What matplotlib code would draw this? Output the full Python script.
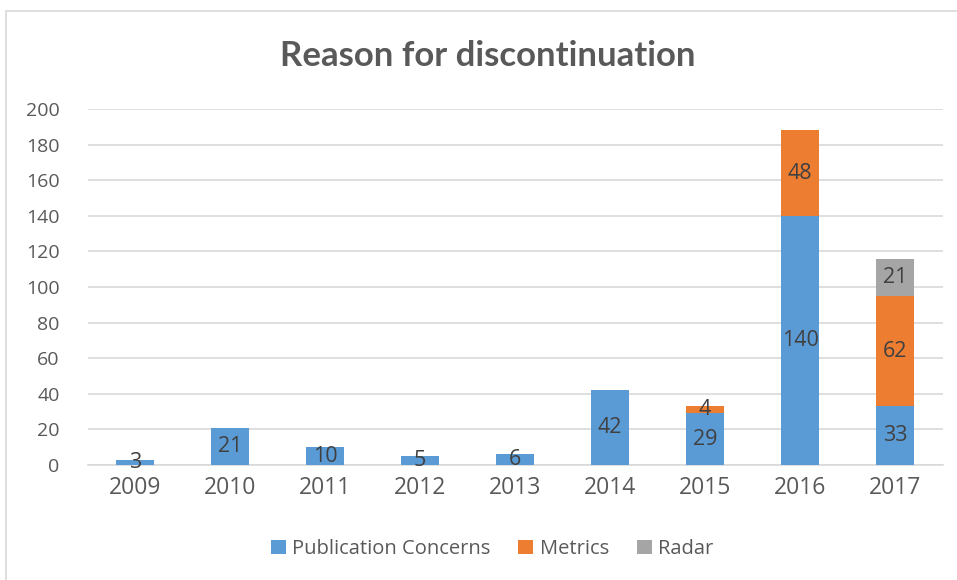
import matplotlib.pyplot as plt
from matplotlib.patches import Rectangle

# Data
years = ["2009", "2010", "2011", "2012", "2013", "2014", "2015", "2016", "2017"]
publication = [3, 21, 10, 5, 6, 42, 29, 140, 33]
metrics = [0, 0, 0, 0, 0, 0, 4, 48, 62]
radar = [0, 0, 0, 0, 0, 0, 0, 0, 21]

series = [("Publication Concerns", publication, "#5B9BD5"),
          ("Metrics", metrics, "#ED7D31"),
          ("Radar", radar, "#A5A5A5")]

plt.rcParams['font.family'] = ['Open Sans', 'DejaVu Sans']

fig = plt.figure(figsize=(9.57, 5.8), dpi=100)
ax = fig.add_axes([87.5 / 957, 1 - 465 / 580, 855 / 957, 356 / 580])

# chart border
fig.patches.append(Rectangle((6 / 957, -0.01), 1.1, 1 - 11 / 580 + 0.01,
                             transform=fig.transFigure, fill=False,
                             edgecolor="#D9D9D9", linewidth=1.2))

x = list(range(len(years)))
bottom = [0] * len(years)
for name, vals, color in series:
    bars = ax.bar(x, vals, width=0.4, bottom=bottom, color=color, label=name, zorder=3)
    for xi, v, b in zip(x, vals, bottom):
        if v > 0:
            ax.text(xi, b + v / 2, str(v), ha="center", va="center",
                    fontsize=15.5, color="#404040", zorder=4)
    bottom = [b + v for b, v in zip(bottom, vals)]

ax.set_xlim(-0.5, len(years) - 0.5)
ax.set_ylim(0, 200)
ax.set_yticks(range(0, 201, 20))
ax.set_xticks(x)
ax.set_xticklabels(years)
ax.yaxis.grid(True, color="#D9D9D9", linewidth=1.2, zorder=0)
ax.tick_params(axis="y", length=0, labelsize=14, labelcolor="#595959", pad=20)
ax.tick_params(axis="x", length=0, labelsize=16.5, labelcolor="#595959", pad=8)
for s in ["top", "right", "left"]:
    ax.spines[s].set_visible(False)
ax.spines["bottom"].set_color("#D9D9D9")
ax.spines["bottom"].set_linewidth(1.2)

fig.text(488 / 957, 1 - 56 / 580, "Reason for discontinuation", ha="center", va="center",
         fontsize=25, fontweight="bold", color="#595959", family=["Lato", "DejaVu Sans"])

leg = fig.legend(loc="center", bbox_to_anchor=(492 / 957, 1 - 549 / 580), ncol=3,
                 frameon=False, fontsize=14.5, handlelength=0.75, handleheight=0.75,
                 handletextpad=0.3, columnspacing=1.4)
for t in leg.get_texts():
    t.set_color("#595959")

fig.savefig("out.png", dpi=100)
